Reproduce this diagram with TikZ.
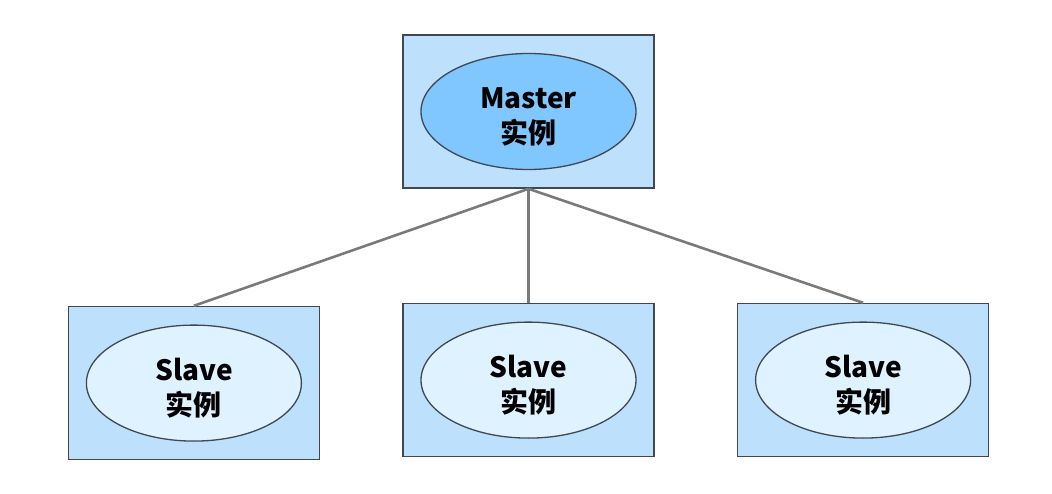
\documentclass[tikz,border=0pt]{standalone}
\usepackage{fontspec}
\setmainfont{Noto Sans CJK SC}
\usepackage{tikz}
\usetikzlibrary{positioning,shapes.geometric}

\definecolor{boxfill}{HTML}{BDE0FD}
\definecolor{boxdraw}{HTML}{404850}
\definecolor{masterfill}{HTML}{80C6FF}
\definecolor{slavefill}{HTML}{DEF2FF}
\definecolor{linkgray}{HTML}{7A7A7A}

\begin{document}
\begin{tikzpicture}[
    x=1pt,y=-1pt,
    node distance=114pt and 82pt,
    outer/.style={draw=boxdraw,fill=boxfill,line width=1.6pt,minimum width=251pt,minimum height=153pt,inner sep=0pt},
    inst/.style={ellipse,draw=boxdraw,line width=1.3pt,minimum width=215pt,minimum height=116pt,inner sep=0pt},
    tag/.style={align=center,inner sep=0pt,font=\fontsize{28}{35}\selectfont\bfseries},
    link/.style={draw=linkgray,line width=2.6pt}]
  \useasboundingbox (0,0) rectangle (1052,494);
  \node[outer] (masterbox) at (528.5,111.5) {};
  \node[inst,fill=masterfill] (master) at (masterbox) {};
  \node[outer,below=of masterbox] (slavebox2) {};
  \node[outer,left=of slavebox2,yshift=-3pt] (slavebox1) {};
  \node[outer,right=of slavebox2] (slavebox3) {};
  \node[inst,fill=slavefill] (slave1) at (slavebox1) {};
  \node[inst,fill=slavefill] (slave2) at (slavebox2) {};
  \node[inst,fill=slavefill] (slave3) at (slavebox3) {};
  % labels sit a little below the ellipse centre
  \node[tag] (mastertag) at ([yshift=-5pt]master) {Master\\实例};
  \node[tag] (slavetag1) at ([yshift=-5pt]slave1) {Slave\\实例};
  \node[tag] (slavetag2) at ([yshift=-5pt]slave2) {Slave\\实例};
  \node[tag] (slavetag3) at ([yshift=-5pt]slave3) {Slave\\实例};
  \draw[link] (masterbox.south) -- (slavebox1.north);
  \draw[link] (masterbox.south) -- (slavebox2.north);
  \draw[link] (masterbox.south) -- (slavebox3.north);
\end{tikzpicture}
\end{document}
